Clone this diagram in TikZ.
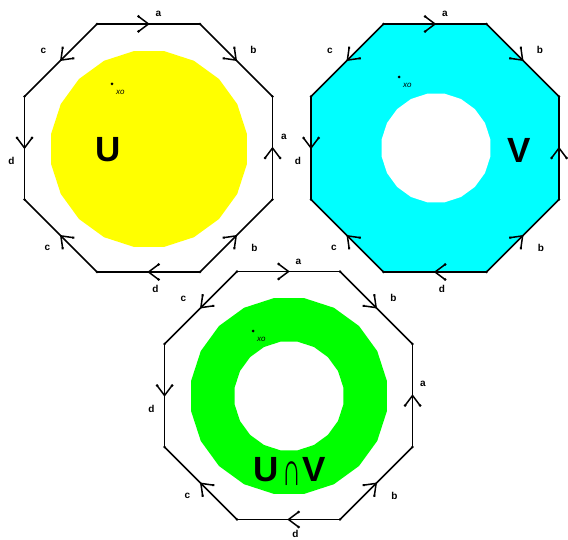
\documentclass[tikz,border=0pt]{standalone}
\usepackage{fontspec}
\setmainfont{Liberation Sans}
\usetikzlibrary{decorations.markings}
\definecolor{yel}{RGB}{255,255,0}
\definecolor{cya}{RGB}{0,255,255}
\definecolor{gre}{RGB}{0,255,0}
\tikzset{
  edge/.style={line width=1.7pt, postaction={decorate},
    decoration={markings, mark=at position 0.5 with {
      \draw[line width=1.5pt, line cap=round] (-10pt,7.5pt) -- (0pt,0pt) -- (-10pt,-7.5pt);
      \fill (-10pt,7.5pt) circle (1.5pt) (-10pt,-7.5pt) circle (1.5pt);}}},
  lbl/.style={font=\bfseries\fontsize{10}{10}\selectfont, inner sep=0pt},
  big/.style={font=\bfseries\fontsize{35}{35}\selectfont, inner sep=0pt},
  xo/.style={font=\itshape\fontsize{8}{8}\selectfont, inner sep=0pt},
  vdot/.style={circle, fill, inner sep=0pt, minimum size=3pt},
}
\newcommand\octo[3]{%
  \begin{scope}[shift={(#2,#3)}]
    \coordinate (#1T1) at (-51.5,-124);
    \coordinate (#1T2) at (51.5,-124);
    \coordinate (#1R1) at (124,-51.5);
    \coordinate (#1R2) at (124,51.5);
    \coordinate (#1B2) at (51.5,124);
    \coordinate (#1B1) at (-51.5,124);
    \coordinate (#1L2) at (-124,51.5);
    \coordinate (#1L1) at (-124,-51.5);
  \end{scope}}
\newcommand\octedges[1]{%
  \draw[edge] (#1T1) -- (#1T2);
  \draw[edge] (#1T2) -- (#1R1);
  \draw[edge] (#1R2) -- (#1R1);
  \draw[edge] (#1B2) -- (#1R2);
  \draw[edge] (#1B2) -- (#1B1);
  \draw[edge] (#1B1) -- (#1L2);
  \draw[edge] (#1L1) -- (#1L2);
  \draw[edge] (#1T1) -- (#1L1);
  \foreach \v in {T1,T2,R1,R2,B1,B2,L1,L2} \fill (#1\v) circle (1.4pt);}
\begin{document}
\begin{tikzpicture}[x=1pt,y=-1pt]
\useasboundingbox (0,0) rectangle (568,540);
% octagon frames
\octo{A}{148.5}{148}
\octo{B}{435}{148}
\octo{C}{288.5}{395.5}
% U
\fill[yel] ({149+99*cos(9)},{149+99*sin(9)}) \foreach \k in {1,...,19} { -- ({149+99*cos(9+18*\k)},{149+99*sin(9+18*\k)}) } -- cycle;
% V
\fill[cya] (BT1) -- (BT2) -- (BR1) -- (BR2) -- (BB2) -- (BB1) -- (BL2) -- (BL1) -- cycle;
\fill[white] ({436+55*cos(9)},{148+55*sin(9)}) \foreach \k in {1,...,19} { -- ({436+55*cos(9+18*\k)},{148+55*sin(9+18*\k)}) } -- cycle;
% U cap V
\fill[gre, even odd rule] ({289+99*cos(9)},{396+99*sin(9)}) \foreach \k in {1,...,19} { -- ({289+99*cos(9+18*\k)},{396+99*sin(9+18*\k)}) } -- cycle
  ({289+55*cos(9)},{396+55*sin(9)}) \foreach \k in {1,...,19} { -- ({289+55*cos(9+18*\k)},{396+55*sin(9+18*\k)}) } -- cycle;
\octedges{A}
\octedges{B}
\octedges{C}
% labels
\foreach \o/\cx/\cy in {A/148.5/148, B/435/148, C/288.5/395.5} {
  \node[lbl] (\o la) at (\cx+10,\cy-134) {a};
  \node[lbl] (\o lb) at (\cx+105,\cy-98) {b};
  \node[lbl] (\o lbb) at (\cx+106,\cy+100) {b};
  \node[lbl] (\o lcb) at (\cx-101,\cy+100) {c};
  \node[lbl] (\o ldl) at (\cx-137,\cy+13) {d};
  \node[lbl] (\o lc) at (\cx-105,\cy-97) {c};
}
\node[lbl] (Ald) at (155.5,289) {d};
\node[lbl] (Bld) at (442,289) {d};
\node[lbl] (Cld) at (295.5,533.5) {d};
\node[lbl] (Ala2) at (284,137) {a};
\node[lbl] (Cla2) at (423,384) {a};
% big letters
\node[big] (Ulbl) at (108,150) {U};
\node[big] (Vlbl) at (519,150) {V};
\node[big] (UVlbl) at (290,471) {U\kern3pt\raisebox{-4pt}{\mdseries\scalebox{0.75}[1.35]{∩}}\kern2ptV};
% base points
\node[vdot] (xA) at (112,84) {};
\node[xo, anchor=west] (xAl) at (116,92) {xo};
\node[vdot] (xB) at (399,77) {};
\node[xo, anchor=west] (xBl) at (403,85) {xo};
\node[vdot] (xC) at (253,331) {};
\node[xo, anchor=west] (xCl) at (257,339) {xo};
\end{tikzpicture}
\end{document}
